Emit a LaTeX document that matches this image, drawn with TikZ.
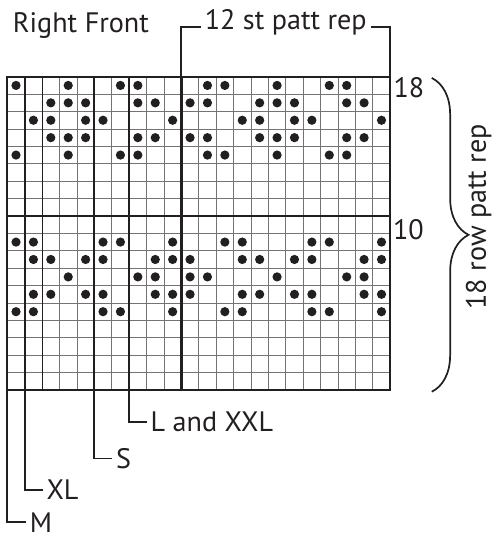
\documentclass[tikz,border=0pt]{standalone}
\usepackage{fontspec}
\setmainfont{PT Sans}
\usetikzlibrary{decorations.pathreplacing}
\begin{document}
\begin{tikzpicture}[scale=0.5,
    lbl/.style={font=\fontsize{23}{27}\selectfont, text=ink},
    thinline/.style={line width=0.6pt, draw=black!55},
    thickline/.style={line width=1.9pt, draw=ink},
    leader/.style={line width=1.5pt, draw=ink},
    sizelbl/.style={lbl, anchor=west, inner xsep=3pt, inner ysep=0pt},
    stitch/.style={fill=ink}]
    % Define colors
    \definecolor{ink}{RGB}{35,31,32}
    \useasboundingbox (-0.42,-8.56) rectangle (28.2,22.41);

    % Chart grid
    \draw[thinline] (0,0) grid (22,18);
    \foreach \x in {1,5,7,10}
        \draw[thickline] (\x,0) -- (\x,18);
    \draw[line width=1pt, draw=ink] (2,0) -- (2,18);
    \draw[thickline] (0,10) -- (22,10);
    \draw[thickline, line join=miter] (0,0) rectangle (22,18);

    % Dots (row / columns)
    \foreach \r/\cs in {18/{1,4,7,8,12,13,16,19,20},
                        17/{3,4,5,8,9,11,12,15,16,17,20,21},
                        16/{2,3,5,6,10,14,15,17,18,22},
                        15/{3,4,5,8,9,11,12,15,16,17,20,21},
                        14/{1,4,7,8,12,13,16,19,20},
                        9/{1,2,6,7,10,13,14,18,19,22},
                        8/{2,3,5,6,9,10,11,14,15,17,18,21,22},
                        7/{4,8,9,11,12,16,20,21},
                        6/{2,3,5,6,9,10,11,14,15,17,18,21,22},
                        5/{1,2,6,7,10,13,14,18,19,22}}
        \foreach \c in \cs
            \fill[stitch] (\c-0.5,\r-0.5) circle (0.265);

    % Title and repeat bracket
    \node[lbl, anchor=base west, inner sep=0pt] (title) at (0.31,20.57) {Right Front};
    \node[lbl, anchor=base, inner sep=3pt] (rep) at (16,20.69) {12 st patt rep};
    \coordinate (repTL) at (10,18);
    \coordinate (repTR) at (22,18);
    \coordinate (repL) at (10,20.88);
    \coordinate (repR) at (22,20.88);
    \draw[leader] (repTL) -- (repL) -- (repL -| rep.west);
    \draw[leader] (repTR) -- (repR) -- (repR -| rep.east);

    % Row numbers
    \node[lbl, anchor=north west, inner sep=0pt] (row18) at (22.18,17.95) {18};
    \node[lbl, anchor=north west, inner sep=0pt] (row10) at (22.15,9.83) {10};

    % Row repeat brace
    \coordinate (brTop) at (24.39,17.93);
    \coordinate (brBot) at (24.39,-0.1);
    \draw[line width=1.4pt, draw=ink, decorate,
          decoration={brace, amplitude=30pt}] (brTop) -- (brBot);
    \node[lbl, rotate=90] (rowrep) at (27.08,9.96) {18 row patt rep};

    % Size lines
    \node[sizelbl] (lxxl) at (8.01,-1.82) {L and XXL};
    \node[sizelbl] (sz) at (6.03,-3.93) {S};
    \node[sizelbl] (xl) at (2.03,-5.75) {XL};
    \node[sizelbl] (m) at (1.07,-7.6) {M};
    \draw[leader] (7,0) |- (lxxl.west);
    \draw[leader] (5,0) |- (sz.west);
    \draw[leader] (1,0) |- (xl.west);
    \draw[leader] (0,0) |- (m.west);

\end{tikzpicture}
\end{document}
